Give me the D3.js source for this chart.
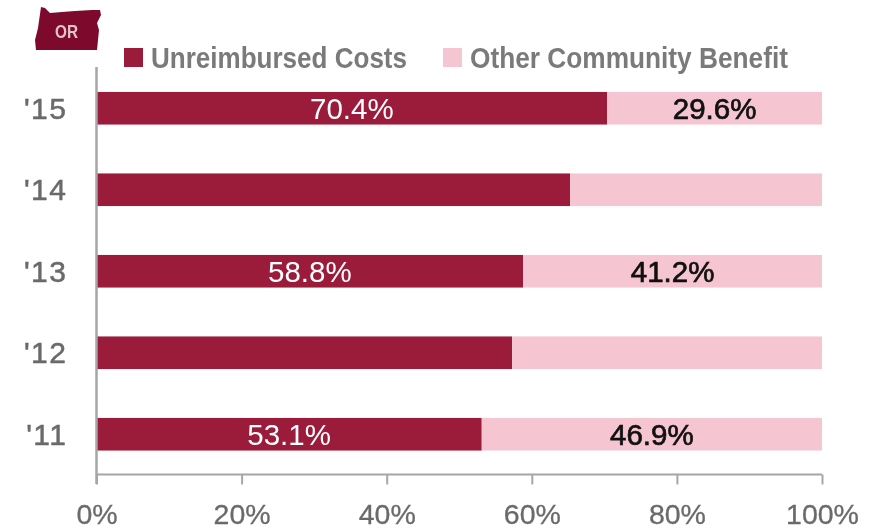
<!DOCTYPE html>
<html>
<head>
<meta charset="utf-8">
<script src="https://cdn.jsdelivr.net/npm/d3@7"></script>
<style>
  html, body { margin: 0; padding: 0; background: #fff; }
  svg { display: block; filter: blur(0.6px); }
  text { font-family: "Liberation Sans", sans-serif; }
</style>
</head>
<body>
<div id="chart"></div>
<script>
const years = ["'15", "'14", "'13", "'12", "'11"];
const unreimbursed = [70.4, 65.3, 58.8, 57.3, 53.1];
const otherBenefit = [29.6, 34.7, 41.2, 42.7, 46.9];
// the chart only prints labels on these years
const labelled = ["'15", "'13", "'11"];
const seriesNames = ["Unreimbursed Costs", "Other Community Benefit"];
const xTicks = [0, 20, 40, 60, 80, 100];

const W = 875, H = 530;
const red = "#9b1b3b", pink = "#f5c6d2", grey = "#6a6a6a", axisGrey = "#a6a6a6";

const svg = d3.select("#chart").append("svg").attr("width", W).attr("height", H);

const x = d3.scaleLinear().domain([0, 100]).range([96.5, 822]);
const y = d3.scaleBand().domain(years).range([67.5, 475]).paddingInner(0.6).paddingOuter(0.3);

const rows = years.map((yr, i) => ({ yr, a: unreimbursed[i], b: otherBenefit[i] }));

// Bars
svg.append("g").selectAll("rect").data(rows).join("rect")
    .attr("x", x(0)).attr("y", d => y(d.yr))
    .attr("width", d => x(d.a) - x(0)).attr("height", y.bandwidth())
    .attr("fill", red);
svg.append("g").selectAll("rect").data(rows).join("rect")
    .attr("x", d => x(d.a)).attr("y", d => y(d.yr))
    .attr("width", d => x(d.a + d.b) - x(d.a)).attr("height", y.bandwidth())
    .attr("fill", pink);

// Value labels
const shown = rows.filter(d => labelled.includes(d.yr));
svg.append("g").selectAll("text").data(shown).join("text")
    .attr("x", d => x(d.a / 2)).attr("y", d => y(d.yr) + y.bandwidth() / 2 + 10.5)
    .attr("text-anchor", "middle").attr("font-size", 29.5).attr("fill", "#fff")
    .text(d => d.a.toFixed(1) + "%");
svg.append("g").selectAll("text").data(shown).join("text")
    .attr("x", d => x(d.a + d.b / 2)).attr("y", d => y(d.yr) + y.bandwidth() / 2 + 10.5)
    .attr("text-anchor", "middle").attr("font-size", 29.5).attr("fill", "#111")
    .attr("stroke", "#111").attr("stroke-width", 0.7)
    .text(d => d.b.toFixed(1) + "%");

// Axes
const xAxis = svg.append("g").attr("transform", "translate(0,474.5)")
    .call(d3.axisBottom(x).tickValues(xTicks).tickFormat(d => d + "%").tickSize(10).tickPadding(19));
xAxis.selectAll("path, line").attr("stroke", axisGrey).attr("stroke-width", 2);
xAxis.select("path").attr("d", `M${x(0)},0H${x(100)}`);
xAxis.selectAll("text").attr("font-size", 28.5).attr("fill", grey)
    .attr("stroke", grey).attr("stroke-width", 0.3)
    .attr("font-family", '"Liberation Sans", sans-serif');

const yAxis = svg.append("g").attr("transform", `translate(${x(0)},0)`)
    .call(d3.axisLeft(y).tickSize(0).tickPadding(29));
yAxis.select("path").attr("stroke", axisGrey).attr("stroke-width", 2.5)
    .attr("d", "M0,67V484");
yAxis.selectAll("text").attr("font-size", 30).attr("fill", grey).attr("dy", "0.35em")
    .attr("letter-spacing", 1.5).attr("stroke", grey).attr("stroke-width", 0.5)
    .attr("font-family", '"Liberation Sans", sans-serif');

// Legend
const legendX = [124, 443];
const legendLen = [256, 318];
const legend = svg.append("g").selectAll("g").data(seriesNames).join("g")
    .attr("transform", (d, i) => `translate(${legendX[i]},48)`);
legend.append("rect").attr("width", 19).attr("height", 19).attr("fill", (d, i) => i ? pink : red);
legend.append("text").attr("x", 27).attr("y", 20)
    .attr("textLength", (d, i) => legendLen[i]).attr("lengthAdjust", "spacingAndGlyphs")
    .attr("font-size", 29).attr("font-weight", 700).attr("fill", "#7a7a7a")
    .text(d => d);

// Oregon badge
const state = svg.append("g");
state.append("path")
    .attr("d", "M41,7L45,8L50,13L62,12L75,11L92,10L100,10L101,15L97,23L99,30L97,50L36,50L35,40L38,28Z")
    .attr("fill", "#7d0a2c");
state.append("text").attr("x", 55).attr("y", 38)
    .attr("textLength", 23).attr("lengthAdjust", "spacingAndGlyphs")
    .attr("font-size", 18).attr("font-weight", 700).attr("fill", "#e3c3cb").text("OR");
</script>
</body>
</html>
